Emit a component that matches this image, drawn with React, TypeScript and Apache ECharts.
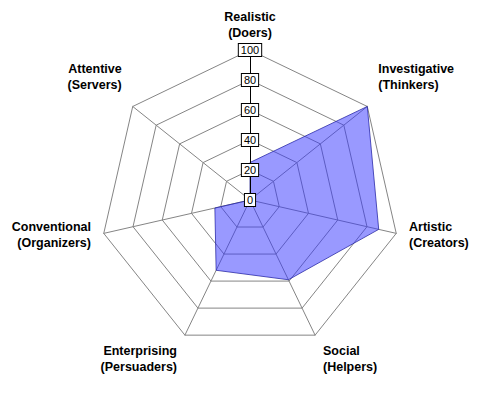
import React, { useEffect, useRef } from "react";
import * as echarts from "echarts";

// listed clockwise from the top, as in the picture
const categories = [
  "Realistic\n(Doers)",
  "Investigative\n(Thinkers)",
  "Artistic\n(Creators)",
  "Social\n(Helpers)",
  "Enterprising\n(Persuaders)",
  "Conventional\n(Organizers)",
  "Attentive\n(Servers)",
];
const values = [25, 100, 88, 59, 52, 24, 0];
const maxValue = 100;
const tickInterval = 20;
// blank lines used to nudge label blocks: upper-diagonal go up, lower-diagonal go down
const nameShift = ["", "up", "", "down", "down", "", "up"];

// ECharts lays indicators out counter-clockwise; reorder to run clockwise
const order = categories.map((_, i) => (i === 0 ? 0 : categories.length - i));

export default function App() {
  const ref = useRef<HTMLDivElement>(null);
  useEffect(() => {
    if (!ref.current) return;
    const chart = echarts.init(ref.current, null, { renderer: "svg" });
    const font = "'Liberation Sans', Arial, sans-serif";
    chart.setOption({
      animation: false,
      backgroundColor: "#ffffff",
      radar: [
        {
          center: [250, 200],
          radius: 150,
          startAngle: 90,
          shape: "polygon",
          splitNumber: maxValue / tickInterval,
          nameGap: 9,
          indicator: order.map((k) => ({ name: categories[k], min: 0, max: maxValue })),
          axisName: {
            color: "#000",
            fontFamily: font,
            fontWeight: "bold",
            fontSize: 12.5,
            lineHeight: 16,
            padding: [0, 4, 0, 4],
            formatter: (name: string) => {
              const i = categories.indexOf(name);
              const s = nameShift[i];
              if (s === "up") return name + "\n\n\n";
              if (s === "down") return "\n\n" + name;
              return name;
            },
          },
          axisLine: { lineStyle: { color: "#858585", width: 1 } },
          splitLine: { lineStyle: { color: "#858585", width: 1 } },
          splitArea: { show: false },
          axisTick: { show: false },
          axisLabel: { show: false },
          z: 0,
        },
        {
          center: [250, 200],
          radius: 150,
          startAngle: 90,
          shape: "polygon",
          splitNumber: maxValue / tickInterval,
          indicator: [{ name: "", min: 0, max: maxValue }],
          axisName: { show: false },
          axisLine: { show: true, lineStyle: { color: "#000", width: 1 } },
          splitLine: { show: false },
          splitArea: { show: false },
          axisTick: { show: false },
          axisLabel: {
            show: true,
            margin: 0,
            align: "center",
            verticalAlign: "middle",
            color: "#000",
            fontFamily: font,
            fontSize: 11,
            lineHeight: 10,
            backgroundColor: "#fff",
            borderColor: "#000",
            borderWidth: 1,
            padding: [1, 2, 1, 2],
          },
          z: 5,
        },
      ],
      series: [
        {
          type: "radar",
          radarIndex: 0,
          symbol: "none",
          z: 2,
          data: [
            {
              value: order.map((k) => values[k]),
              lineStyle: { color: "rgba(40,40,140,0.8)", width: 1 },
              areaStyle: { color: "rgba(51,51,255,0.5)", opacity: 1 },
            },
          ],
        },
      ],
    });
    return () => chart.dispose();
  }, []);
  return (
    <div
      ref={ref}
      style={{ position: "absolute", left: 0, top: 0, width: 498, height: 397 }}
    />
  );
}
